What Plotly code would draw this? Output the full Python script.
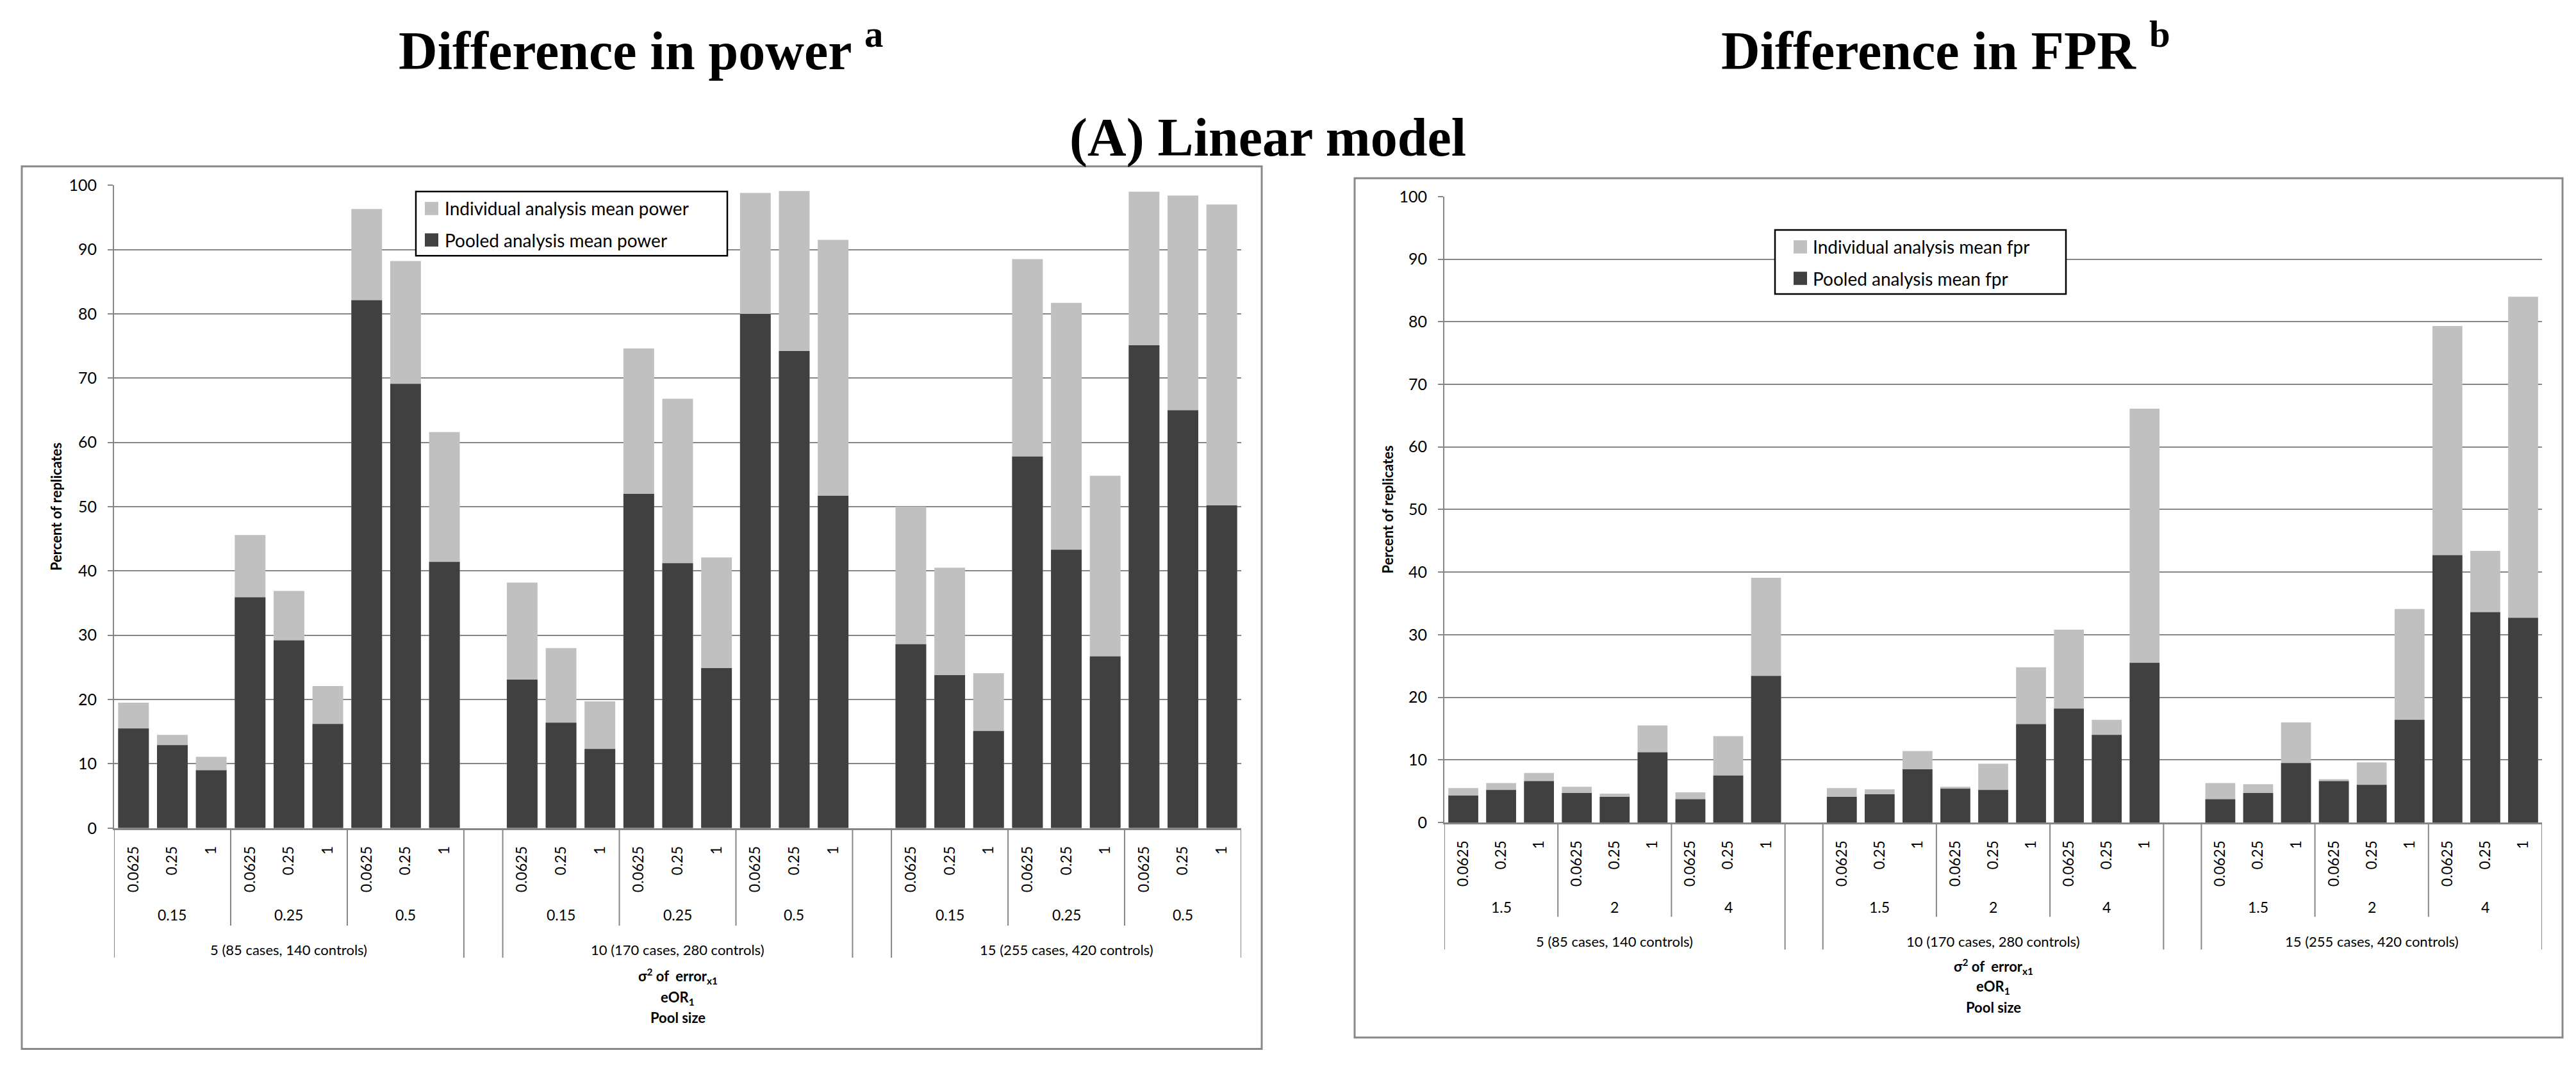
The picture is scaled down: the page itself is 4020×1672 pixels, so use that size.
import plotly.graph_objects as go

W, H = 4020, 1672

# ---------------- data ----------------
pool_labels = ["5 (85 cases, 140 controls)", "10 (170 cases, 280 controls)", "15 (255 cases, 420 controls)"]
sigma_labels = ["0.0625", "0.25", "1"]
eor_power = ["0.15", "0.25", "0.5"]
eor_fpr = ["1.5", "2", "4"]

power_individual = [19.5, 14.5, 11.1, 45.6, 36.9, 22.1, 96.3, 88.2, 61.6,
                    38.2, 28.0, 19.7, 74.6, 66.8, 42.1, 98.8, 99.1, 91.5,
                    50.0, 40.5, 24.1, 88.5, 81.7, 54.8, 99.0, 98.4, 97.0]
power_pooled = [15.5, 12.9, 9.0, 35.9, 29.2, 16.2, 82.1, 69.1, 41.4,
                23.1, 16.4, 12.3, 52.0, 41.2, 24.9, 80.0, 74.2, 51.7,
                28.6, 23.8, 15.1, 57.8, 43.3, 26.7, 75.1, 65.0, 50.2]
fpr_individual = [5.5, 6.3, 7.9, 5.7, 4.6, 15.5, 4.8, 13.8, 39.1,
                  5.5, 5.3, 11.4, 5.7, 9.4, 24.8, 30.8, 16.4, 66.1,
                  6.3, 6.1, 16.0, 6.9, 9.6, 34.1, 79.3, 43.4, 84.0]
fpr_pooled = [4.3, 5.2, 6.6, 4.7, 4.1, 11.2, 3.7, 7.5, 23.4,
              4.1, 4.5, 8.5, 5.4, 5.2, 15.7, 18.2, 14.0, 25.5,
              3.7, 4.7, 9.5, 6.6, 6.0, 16.4, 42.7, 33.6, 32.7]

y_ticks = [0, 10, 20, 30, 40, 50, 60, 70, 80, 90, 100]

# ---------------- styling ----------------
LIGHT = "#C0C0C0"
DARK = "#404040"
GRID = "#868686"
FONT = "Lato"
SERIF = "Liberation Serif"

def px_x(v):
    return v / W

def px_y(v):
    return 1 - v / H

# slot positions: pool p, eOR e, sigma s -> p*10 + e*3 + s (one empty slot between pools)
n_pool, n_eor, n_sig = len(pool_labels), 3, len(sigma_labels)
slot = n_eor * n_sig + 1
x_pos = [p * slot + e * n_sig + s for p in range(n_pool) for e in range(n_eor) for s in range(n_sig)]
tick_text = [sigma_labels[s] for p in range(n_pool) for e in range(n_eor) for s in range(n_sig)]
x_range = [-0.5, n_pool * slot - 1 - 0.5]

panels = [
    dict(xa="x", ya="y", ind=power_individual, pool=power_pooled, eor=eor_power,
         ind_name="Individual analysis mean power", pool_name="Pooled analysis mean power",
         px=(170, 1929), py=(1292, 270), eor_y=1430, pool_y=1485, inner_bot=1447, outer_bot=1498,
         title_y=(1527, 1562, 1593), ytitle_x=80, frame=(26, 240, 1961, 1643),
         legend=dict(box=(641, 280, 1127, 382), sw=(655, 676), rows=(307, 357), tx=684),
         head="Difference in power <sup>a</sup>", head_x=992),
    dict(xa="x2", ya="y2", ind=fpr_individual, pool=fpr_pooled, eor=eor_fpr,
         ind_name="Individual analysis mean fpr", pool_name="Pooled analysis mean fpr",
         px=(2246, 3959), py=(1283, 288), eor_y=1417, pool_y=1472, inner_bot=1433, outer_bot=1485,
         title_y=(1512, 1545, 1577), ytitle_x=2157, frame=(2106, 259, 3991, 1625),
         legend=dict(box=(2762, 341, 3216, 443), sw=(2791, 2812), rows=(368, 418), tx=2819),
         head="Difference in FPR <sup>b</sup>", head_x=3028),
]

fig = go.Figure()
shapes = []
annotations = []

for i, P in enumerate(panels):
    fig.add_trace(go.Bar(x=x_pos, y=P["ind"], name=P["ind_name"], marker=dict(color=LIGHT, line=dict(width=0)),
                         xaxis=P["xa"], yaxis=P["ya"], showlegend=False))
    fig.add_trace(go.Bar(x=x_pos, y=P["pool"], name=P["pool_name"], marker=dict(color=DARK, line=dict(width=0)),
                         xaxis=P["xa"], yaxis=P["ya"], showlegend=False))

    axis_key = "" if i == 0 else "2"
    fig.update_layout(**{
        "xaxis" + axis_key: dict(
            domain=[px_x(P["px"][0]), px_x(P["px"][1])], range=x_range, anchor=P["ya"],
            tickmode="array", tickvals=x_pos, ticktext=tick_text, tickangle=-90,
            ticks="", showgrid=False, zeroline=False, showline=True, linecolor=GRID, linewidth=3,
            tickfont=dict(family=FONT, size=23, color="black"), ticklabelstandoff=16, fixedrange=True),
        "yaxis" + axis_key: dict(
            domain=[px_y(P["py"][0]), px_y(P["py"][1])], range=[0, 100], anchor=P["xa"],
            tickmode="array", tickvals=y_ticks, ticks="outside", ticklen=8, tickwidth=2, tickcolor=GRID,
            showgrid=True, gridcolor=GRID, gridwidth=2, zeroline=False,
            showline=True, linecolor=GRID, linewidth=2,
            tickfont=dict(family=FONT, size=25, color="black"), ticklabelstandoff=12, fixedrange=True),
    })

    ybase = px_y(P["py"][0])
    # dividers between eOR groups and pool groups
    for p in range(n_pool):
        start = p * slot - 0.5
        end = p * slot + n_eor * n_sig - 0.5
        for xb in (start, end):
            shapes.append(dict(type="line", xref=P["xa"], yref="paper", x0=xb, x1=xb,
                               y0=ybase, y1=px_y(P["outer_bot"]), line=dict(color=GRID, width=2)))
        for e in range(1, n_eor):
            xb = p * slot + e * n_sig - 0.5
            shapes.append(dict(type="line", xref=P["xa"], yref="paper", x0=xb, x1=xb,
                               y0=ybase, y1=px_y(P["inner_bot"]), line=dict(color=GRID, width=2)))
        for e in range(n_eor):
            annotations.append(dict(xref=P["xa"], yref="paper", x=p * slot + e * n_sig + (n_sig - 1) / 2,
                                    y=px_y(P["eor_y"]), text=P["eor"][e], showarrow=False,
                                    xanchor="center", yanchor="middle",
                                    font=dict(family=FONT, size=23, color="black")))
        annotations.append(dict(xref=P["xa"], yref="paper", x=p * slot + (n_eor * n_sig - 1) / 2,
                                y=px_y(P["pool_y"]), text=pool_labels[p], showarrow=False,
                                xanchor="center", yanchor="middle",
                                font=dict(family=FONT, size=22, color="black")))

    # axis titles
    cx = px_x((P["px"][0] + P["px"][1]) / 2)
    for txt, yy in zip(["σ<sup>2</sup> of  error<sub>x1</sub>", "eOR<sub>1</sub>", "Pool size"], P["title_y"]):
        annotations.append(dict(xref="paper", yref="paper", x=cx, y=px_y(yy), text="<b>" + txt + "</b>",
                                showarrow=False, xanchor="center", yanchor="middle",
                                font=dict(family=FONT, size=22, color="black")))
    annotations.append(dict(xref="paper", yref="paper", x=px_x(P["ytitle_x"]),
                            y=px_y((P["py"][0] + P["py"][1]) / 2), text="<b>Percent of replicates</b>",
                            textangle=-90, showarrow=False, xanchor="center", yanchor="middle",
                            font=dict(family=FONT, size=22, color="black")))

    # chart frame
    fx0, fy0, fx1, fy1 = P["frame"]
    shapes.append(dict(type="rect", xref="paper", yref="paper", x0=px_x(fx0), x1=px_x(fx1),
                       y0=px_y(fy1), y1=px_y(fy0), line=dict(color="#888888", width=3), layer="below"))

    # legend box
    L = P["legend"]
    bx0, by0, bx1, by1 = L["box"]
    shapes.append(dict(type="rect", xref="paper", yref="paper", x0=px_x(bx0), x1=px_x(bx1),
                       y0=px_y(by1), y1=px_y(by0), line=dict(color="black", width=2.5),
                       fillcolor="white", layer="above"))
    for col, name, ry in [(LIGHT, P["ind_name"], L["rows"][0]), (DARK, P["pool_name"], L["rows"][1])]:
        shapes.append(dict(type="rect", xref="paper", yref="paper", x0=px_x(L["sw"][0]), x1=px_x(L["sw"][1]),
                           y0=px_y(ry + 10.5), y1=px_y(ry - 10.5), line=dict(width=0),
                           fillcolor=col, layer="above"))
        annotations.append(dict(xref="paper", yref="paper", x=px_x(L["tx"]), y=px_y(ry), text=name,
                                showarrow=False, xanchor="left", yanchor="middle",
                                font=dict(family=FONT, size=28, color="black")))

    # panel heading
    annotations.append(dict(xref="paper", yref="paper", x=px_x(P["head_x"]), y=px_y(50),
                            text="<b>" + P["head"] + "</b>", showarrow=False,
                            xanchor="center", yanchor="middle",
                            font=dict(family=SERIF, size=84, color="black")))

annotations.append(dict(xref="paper", yref="paper", x=px_x(1970), y=px_y(194),
                        text="<b>(A) Linear model</b>", showarrow=False,
                        xanchor="center", yanchor="middle",
                        font=dict(family=SERIF, size=84, color="black")))

fig.update_layout(
    width=W, height=H, margin=dict(l=0, r=0, t=0, b=0),
    paper_bgcolor="white", plot_bgcolor="white",
    barmode="overlay", bargap=0.21,
    shapes=shapes, annotations=annotations, showlegend=False,
)

fig.write_html("out.html")
